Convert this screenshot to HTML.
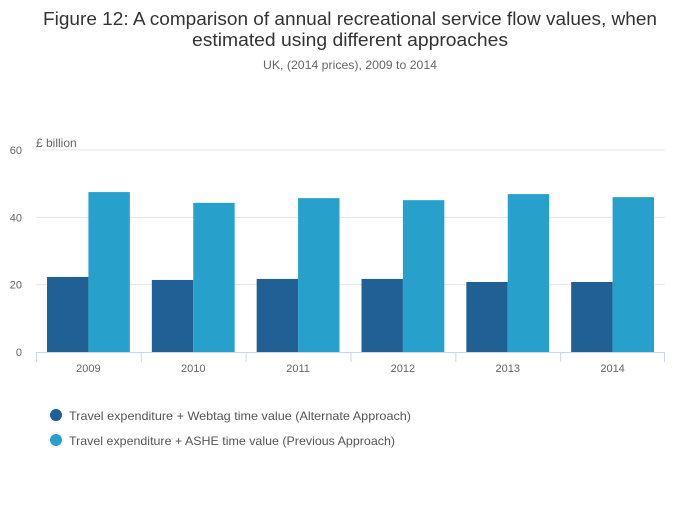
<!DOCTYPE html>
<html><head><meta charset="utf-8"><style>
body{margin:0;background:#fff;font-family:"Liberation Sans",sans-serif;}
svg text{font-family:"Liberation Sans",sans-serif;}
</style></head><body>
<svg id="c" width="700" height="502">
<text x="43" y="25" textLength="614" lengthAdjust="spacingAndGlyphs" font-size="18" fill="#333">Figure 12: A comparison of annual recreational service flow values, when</text>
<text x="192" y="46" textLength="316" lengthAdjust="spacingAndGlyphs" font-size="18" fill="#333">estimated using different approaches</text>
<text x="263" y="69" textLength="174" lengthAdjust="spacingAndGlyphs" font-size="12" fill="#666">UK, (2014 prices), 2009 to 2014</text>
<text x="36" y="147" font-size="12" fill="#666">£ billion</text>
<g id="grid"></g><g id="bars"></g><g id="xaxis"></g>
<circle cx="56" cy="415" r="6" fill="#206095"/>
<text x="69" y="420" textLength="342" lengthAdjust="spacingAndGlyphs" font-size="12" fill="#555">Travel expenditure + Webtag time value (Alternate Approach)</text>
<circle cx="56" cy="440" r="6" fill="#27a0cc"/>
<text x="69" y="445" textLength="326" lengthAdjust="spacingAndGlyphs" font-size="12" fill="#555">Travel expenditure + ASHE time value (Previous Approach)</text>
</svg>
<script>
const categories=["2009","2010","2011","2012","2013","2014"];
const webtag=[22.3,21.4,21.7,21.7,20.8,20.8];
const ashe=[47.5,44.3,45.7,45.1,46.9,46.0];
const yTicks=[0,20,40,60];
const NS="http://www.w3.org/2000/svg";
const x0=36,x1=665,y0=352,y1=150,yMax=60;
const y=v=>y0-(v/yMax)*(y0-y1);
const bw=(x1-x0)/categories.length;
const xc=i=>x0+bw*i;
function mk(t,a,p){const e=document.createElementNS(NS,t);for(const k in a)e.setAttribute(k,a[k]);p.appendChild(e);return e;}
const g=document.getElementById('grid'),b=document.getElementById('bars'),xa=document.getElementById('xaxis');
yTicks.forEach(t=>{
 if(t>0){const l=mk('line',{x1:x0,x2:x1,y1:y(t),y2:y(t),stroke:'#e6e6e6'},g);
 
 }
 const tx=mk('text',{x:22,y:y(t)+4,'text-anchor':'end','font-size':11,fill:'#666'},g);tx.textContent=t;
 
 
});
const ax=mk('line',{x1:x0,x2:x1,y1:y0+0.5,y2:y0+0.5,stroke:'#ccd6eb'},xa);


const pad=11,w=(bw-2*pad)/2;
categories.forEach((c,i)=>{
 const r1=mk('rect',{x:xc(i)+pad,y:y(webtag[i]),width:w,height:y0-y(webtag[i]),fill:'#206095'},b);
 
 
 const r2=mk('rect',{x:xc(i)+pad+w,y:y(ashe[i]),width:w,height:y0-y(ashe[i]),fill:'#27a0cc'},b);
 
 
 const tk=mk('line',{x1:xc(i)+0.5,x2:xc(i)+0.5,y1:y0,y2:y0+10,stroke:'#ccd6eb'},xa);
 
 
 const tx=mk('text',{x:xc(i)+bw/2,y:372,'text-anchor':'middle','font-size':11,fill:'#666'},xa);tx.textContent=c;
 
 
});
const te=mk('line',{x1:x1-0.5,x2:x1-0.5,y1:y0,y2:y0+10,stroke:'#ccd6eb'},xa);


</script>
</body></html>
